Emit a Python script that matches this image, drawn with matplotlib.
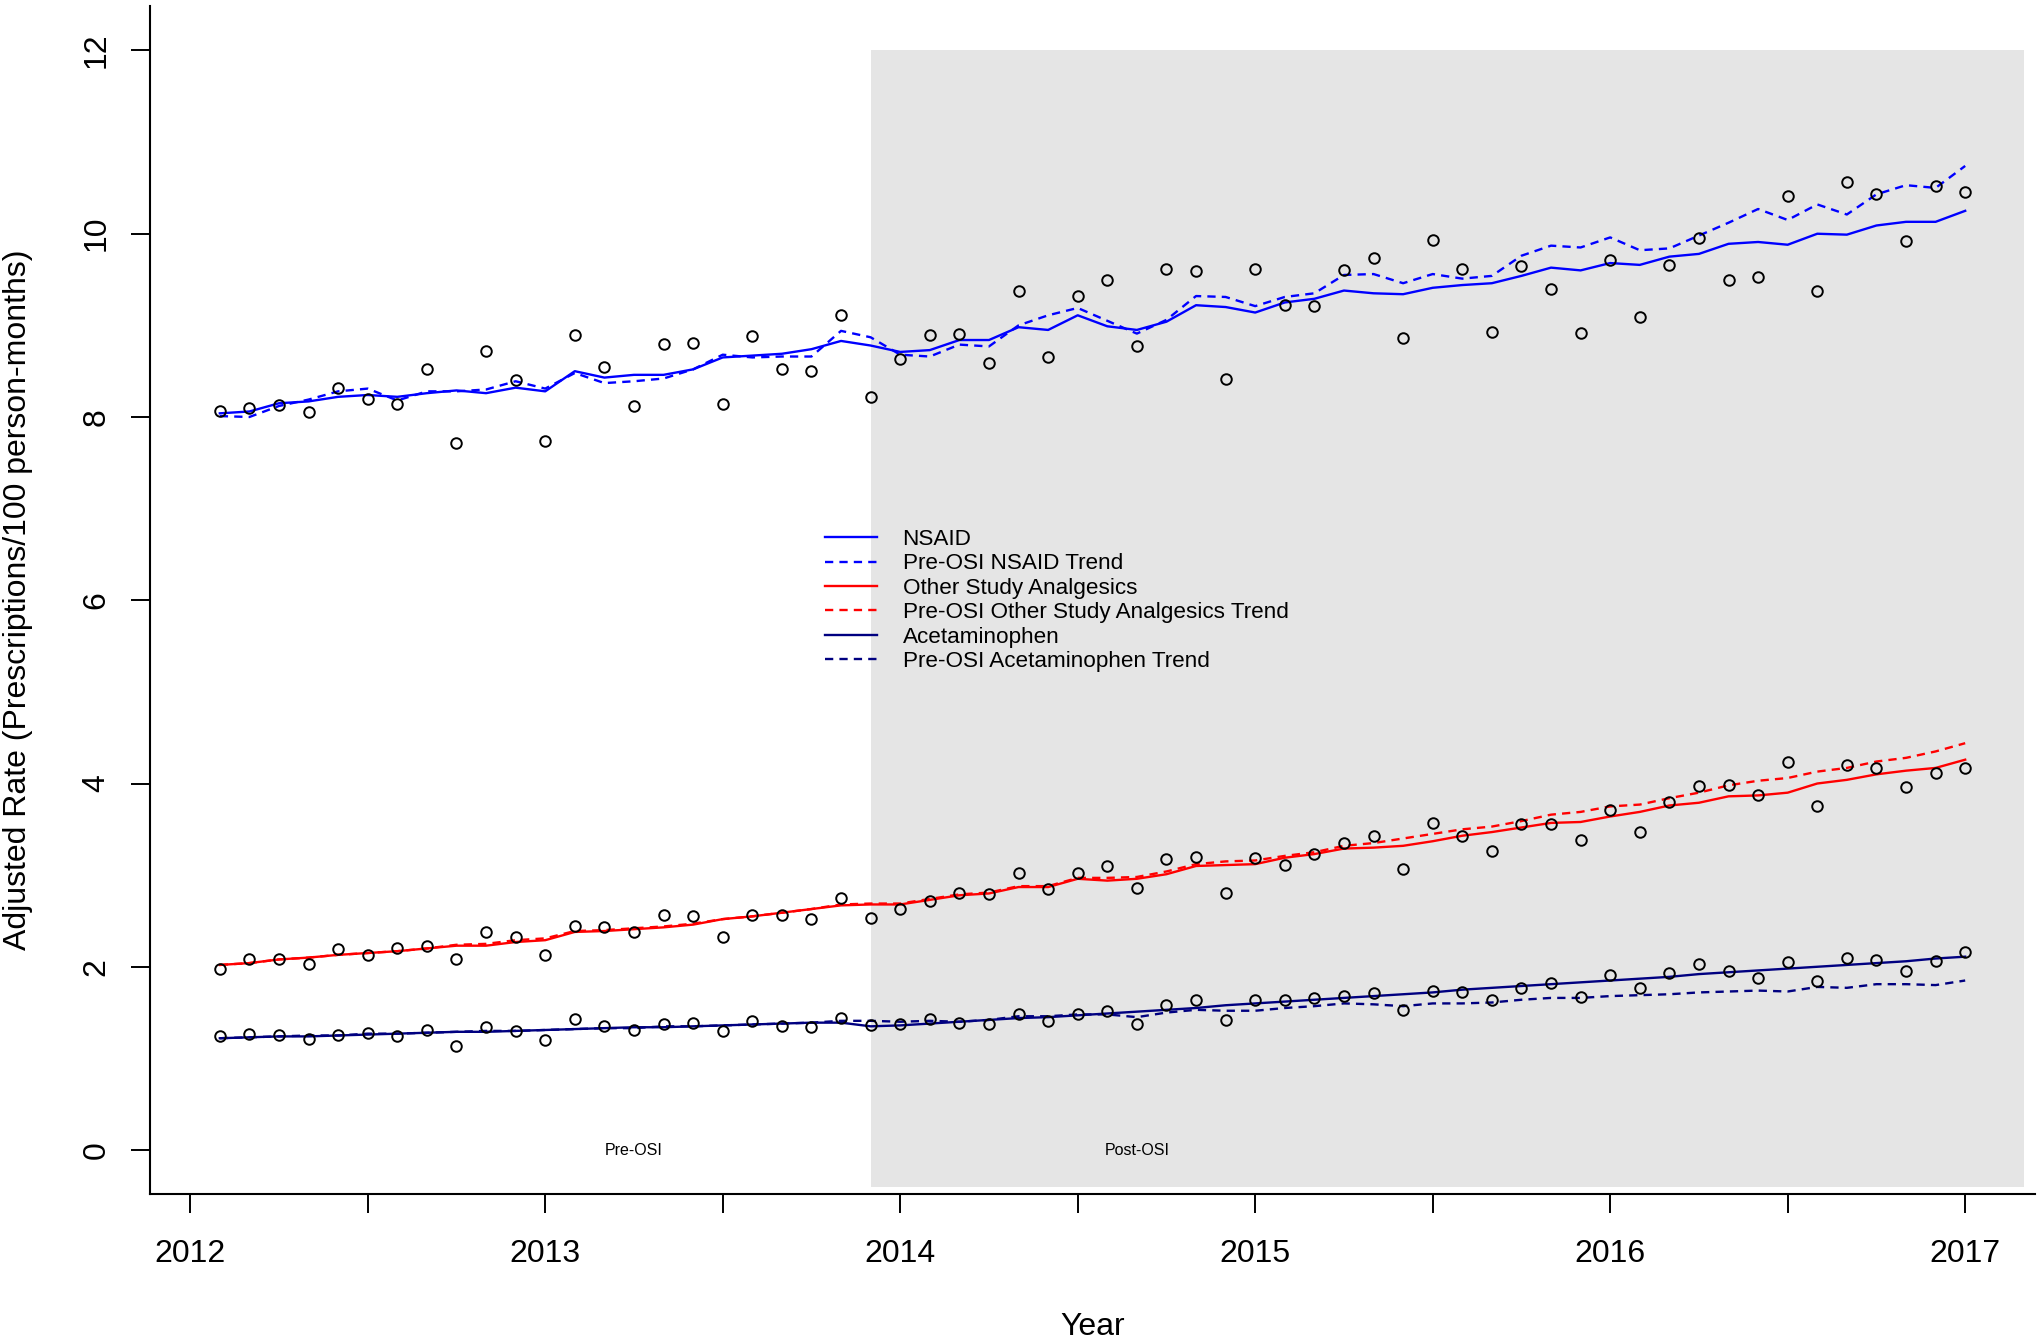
import numpy as np
import matplotlib
matplotlib.use('agg')
import matplotlib.pyplot as plt
from matplotlib.patches import Rectangle

plt.rcParams['font.family'] = ['Liberation Sans', 'DejaVu Sans']

# monthly time points, Feb 2012 .. Jan 2017 as decimal years
month_index = np.arange(1, 61)
years = 2012 + month_index / 12

osi_start = 2013 + 11 / 12
osi_end = 2017 + 2 / 12

nsaid_obs = [8.07, 8.10, 8.13, 8.05, 8.32, 8.20, 8.14, 8.52, 7.72, 8.72,
             8.40, 7.74, 8.89, 8.55, 8.12, 8.80, 8.81, 8.14, 8.88, 8.52,
             8.50, 9.11, 8.22, 8.63, 8.90, 8.91, 8.59, 9.38, 8.66, 9.32,
             9.49, 8.78, 9.61, 9.59, 8.42, 9.61, 9.22, 9.21, 9.60, 9.73,
             8.86, 9.93, 9.62, 8.93, 9.65, 9.40, 8.92, 9.71, 9.09, 9.66,
             9.95, 9.50, 9.53, 10.41, 9.37, 10.57, 10.43, 9.92, 10.52, 10.46]
nsaid_fit = [8.04, 8.06, 8.15, 8.17, 8.22, 8.24, 8.22, 8.26, 8.29, 8.26,
             8.32, 8.28, 8.50, 8.43, 8.46, 8.46, 8.52, 8.65, 8.67, 8.69,
             8.74, 8.83, 8.78, 8.71, 8.73, 8.84, 8.84, 8.98, 8.95, 9.11,
             8.99, 8.95, 9.04, 9.22, 9.20, 9.14, 9.25, 9.29, 9.38, 9.35,
             9.34, 9.41, 9.44, 9.46, 9.54, 9.63, 9.60, 9.68, 9.66, 9.75,
             9.78, 9.89, 9.91, 9.88, 10.00, 9.99, 10.09, 10.13, 10.13, 10.25]
nsaid_trend = [8.01, 8.00, 8.12, 8.19, 8.28, 8.31, 8.18, 8.28, 8.28, 8.30,
               8.39, 8.31, 8.48, 8.37, 8.39, 8.42, 8.52, 8.68, 8.65, 8.66,
               8.66, 8.94, 8.87, 8.68, 8.66, 8.79, 8.77, 9.00, 9.11, 9.19,
               9.05, 8.91, 9.06, 9.32, 9.31, 9.21, 9.31, 9.35, 9.55, 9.56,
               9.46, 9.56, 9.51, 9.54, 9.76, 9.87, 9.85, 9.96, 9.82, 9.84,
               9.98, 10.12, 10.27, 10.15, 10.32, 10.21, 10.43, 10.53, 10.50, 10.74]

other_obs = [1.98, 2.08, 2.09, 2.03, 2.19, 2.13, 2.20, 2.23, 2.09, 2.38,
             2.32, 2.13, 2.44, 2.43, 2.38, 2.57, 2.55, 2.33, 2.57, 2.56,
             2.52, 2.75, 2.53, 2.63, 2.72, 2.81, 2.79, 3.02, 2.85, 3.02,
             3.10, 2.86, 3.18, 3.20, 2.81, 3.19, 3.11, 3.23, 3.35, 3.43,
             3.07, 3.57, 3.43, 3.26, 3.56, 3.56, 3.38, 3.71, 3.47, 3.80,
             3.97, 3.98, 3.88, 4.23, 3.75, 4.20, 4.17, 3.96, 4.11, 4.17]
other_fit = [2.02, 2.04, 2.08, 2.10, 2.13, 2.15, 2.17, 2.20, 2.23, 2.23,
             2.27, 2.29, 2.38, 2.39, 2.41, 2.43, 2.46, 2.52, 2.55, 2.59,
             2.63, 2.67, 2.68, 2.68, 2.73, 2.78, 2.80, 2.87, 2.87, 2.96,
             2.94, 2.96, 3.01, 3.10, 3.11, 3.12, 3.19, 3.23, 3.29, 3.30,
             3.32, 3.37, 3.43, 3.47, 3.52, 3.57, 3.58, 3.64, 3.69, 3.76,
             3.79, 3.86, 3.87, 3.90, 4.00, 4.04, 4.10, 4.14, 4.17, 4.26]
other_trend = [2.02, 2.04, 2.08, 2.10, 2.13, 2.15, 2.17, 2.20, 2.24, 2.25,
               2.29, 2.31, 2.39, 2.40, 2.42, 2.44, 2.47, 2.52, 2.55, 2.59,
               2.63, 2.68, 2.69, 2.69, 2.74, 2.79, 2.81, 2.88, 2.88, 2.97,
               2.97, 2.98, 3.04, 3.12, 3.15, 3.16, 3.21, 3.25, 3.32, 3.35,
               3.40, 3.45, 3.50, 3.53, 3.59, 3.66, 3.69, 3.75, 3.77, 3.84,
               3.90, 3.98, 4.03, 4.06, 4.13, 4.17, 4.24, 4.28, 4.35, 4.44]

acet_obs = [1.24, 1.27, 1.25, 1.21, 1.26, 1.28, 1.24, 1.31, 1.14, 1.34,
            1.30, 1.20, 1.43, 1.35, 1.31, 1.37, 1.39, 1.30, 1.41, 1.35,
            1.34, 1.44, 1.36, 1.37, 1.43, 1.39, 1.38, 1.48, 1.41, 1.48,
            1.52, 1.38, 1.58, 1.64, 1.42, 1.64, 1.64, 1.66, 1.68, 1.71,
            1.53, 1.74, 1.72, 1.64, 1.77, 1.82, 1.67, 1.91, 1.77, 1.93,
            2.03, 1.95, 1.88, 2.05, 1.84, 2.10, 2.07, 1.95, 2.06, 2.16]
acet_fit = [1.22, 1.23, 1.24, 1.24, 1.25, 1.26, 1.27, 1.28, 1.29, 1.29,
            1.30, 1.31, 1.32, 1.33, 1.34, 1.34, 1.35, 1.36, 1.37, 1.38,
            1.39, 1.39, 1.35, 1.36, 1.38, 1.40, 1.42, 1.44, 1.45, 1.47,
            1.49, 1.51, 1.53, 1.55, 1.58, 1.60, 1.62, 1.64, 1.66, 1.68,
            1.70, 1.72, 1.75, 1.77, 1.79, 1.81, 1.83, 1.85, 1.87, 1.89,
            1.92, 1.94, 1.96, 1.98, 2.00, 2.02, 2.04, 2.06, 2.09, 2.11]
acet_trend = [1.22, 1.23, 1.24, 1.25, 1.25, 1.27, 1.27, 1.28, 1.29, 1.30,
              1.30, 1.31, 1.32, 1.33, 1.33, 1.35, 1.35, 1.36, 1.37, 1.38,
              1.39, 1.41, 1.41, 1.40, 1.41, 1.40, 1.42, 1.46, 1.46, 1.48,
              1.48, 1.45, 1.50, 1.53, 1.52, 1.52, 1.55, 1.57, 1.60, 1.59,
              1.57, 1.60, 1.60, 1.61, 1.64, 1.66, 1.66, 1.68, 1.69, 1.70,
              1.72, 1.73, 1.74, 1.73, 1.78, 1.77, 1.81, 1.81, 1.80, 1.85]

series = [
    ('NSAID', nsaid_obs, nsaid_fit, nsaid_trend, '#0000FF'),
    ('Other Study Analgesics', other_obs, other_fit, other_trend, '#FF0000'),
    ('Acetaminophen', acet_obs, acet_fit, acet_trend, '#000080'),
]

year_ticks = [2012, 2012.5, 2013, 2013.5, 2014, 2014.5, 2015, 2015.5,
              2016, 2016.5, 2017]
year_labels = ['2012', '', '2013', '', '2014', '', '2015', '', '2016', '', '2017']
rate_ticks = [0, 2, 4, 6, 8, 10, 12]

LW = 1.7
DASH = (0, (3.5, 2.6))

fig = plt.figure(figsize=(20.4, 13.44), dpi=100)
ax = fig.add_axes([150 / 2040, 1 - 1194 / 1344, 1885 / 2040, 1187.5 / 1344])

# R style axis ranges (4% padding)
xr = years[-1] - years[0]
ax.set_xlim(years[0] - 0.04 * xr, years[-1] + 0.04 * xr)
ax.set_ylim(0 - 0.04 * 12, 12 + 0.04 * 12)

# post-OSI shading
ax.add_patch(Rectangle((osi_start, -0.4), osi_end - osi_start, 12.4,
                       facecolor='#E5E5E5', edgecolor='none', zorder=0))

handles = []
labels = []
for name, obs, fit, trend, color in series:
    h1, = ax.plot(years, fit, color=color, lw=LW, zorder=2)
    h2, = ax.plot(years, trend, color=color, lw=LW, linestyle=DASH, zorder=2)
    ax.plot(years, obs, linestyle='none', marker='o', markersize=7.6,
            markerfacecolor='none', markeredgecolor='black',
            markeredgewidth=1.4, zorder=3)
    handles += [h1, h2]
    labels += [name, f'Pre-OSI {name} Trend']

ax.text(2013.25, 0, 'Pre-OSI', ha='center', va='center', fontsize=11.5)
ax.text(2014 + 8 / 12, 0, 'Post-OSI', ha='center', va='center', fontsize=11.5)

ax.legend(handles, labels, loc='upper left', bbox_to_anchor=(825 / 2040, 1 - 529 / 1344),
          bbox_transform=fig.transFigure, frameon=False, fontsize=16.2,
          handlelength=2.29, handletextpad=1.16, labelspacing=0.15,
          borderpad=0, borderaxespad=0)

# axes: L-shaped box like R bty="l"
for side in ['top', 'right']:
    ax.spines[side].set_visible(False)
for side in ['left', 'bottom']:
    ax.spines[side].set_linewidth(1.5)

ax.set_xticks(year_ticks, year_labels)
ax.set_yticks(rate_ticks, [str(t) for t in rate_ticks])
ax.tick_params(axis='both', length=13.7, width=1.4, labelsize=23)
ax.tick_params(axis='x', pad=19)
ax.tick_params(axis='y', pad=14)
for lab in ax.get_yticklabels():
    lab.set_rotation(90)
    lab.set_va('center')
    lab.set_ha('right')

ax.set_xlabel('Year', fontsize=23, va='center')
ax.xaxis.set_label_coords(0.5, (1194 - 1327) / 1187.5)
ax.set_ylabel('Adjusted Rate (Prescriptions/100 person-months)', fontsize=23, va='center')
ax.yaxis.set_label_coords((18 - 150) / 1885, 0.5)

fig.savefig('out.png', dpi=100)
